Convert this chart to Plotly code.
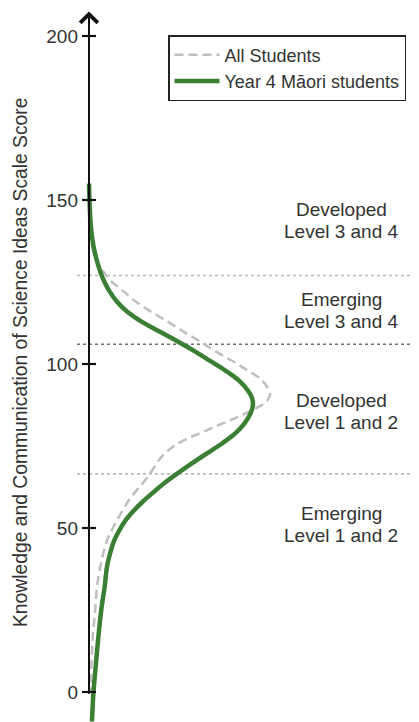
import plotly.graph_objects as go

# ---------------- data ----------------
# Distribution curves: scale score (vertical) vs relative frequency (% of students per score point, horizontal)
maori_score = [155, 150, 145, 140, 136, 132, 128, 125, 122, 119, 116, 113, 110, 107, 104, 101, 98, 95,
               92, 89.5, 87.5, 85, 82, 79, 76, 73, 70, 67, 64, 61, 58, 55, 52, 49, 46, 42, 38, 32,
               26, 20, 14, 7, 0, -9]
maori_density = [0.0, 0.007, 0.016, 0.034, 0.06, 0.10, 0.154, 0.208, 0.28, 0.376, 0.51, 0.70, 0.94,
                 1.18, 1.41, 1.62, 1.83, 2.01, 2.13, 2.19, 2.20, 2.17, 2.09, 1.97, 1.80, 1.60, 1.40,
                 1.21, 1.03, 0.87, 0.72, 0.59, 0.48, 0.40, 0.335, 0.28, 0.24, 0.21, 0.17, 0.14, 0.114,
                 0.087, 0.06, 0.04]

all_score = [145, 140, 136, 132, 128, 125, 122, 119, 116, 113, 110, 107, 104, 101, 98, 95.5, 93, 90.5,
             88.5, 87, 85, 83, 81, 79, 77, 75, 73, 71, 68, 65, 62, 59, 56, 53, 50, 47, 43, 38, 32,
             24, 18, 12, 5, 0]
all_density = [0.0, 0.013, 0.04, 0.094, 0.20, 0.31, 0.47, 0.63, 0.83, 1.05, 1.26, 1.48, 1.69, 1.92,
               2.13, 2.30, 2.39, 2.43, 2.38, 2.28, 2.11, 1.91, 1.70, 1.50, 1.30, 1.14, 1.03, 0.95,
               0.86, 0.77, 0.66, 0.55, 0.47, 0.39, 0.32, 0.255, 0.20, 0.15, 0.107, 0.08, 0.054,
               0.04, 0.027, 0.02]

series_names = ["All Students", "Year 4 Māori students"]

cut_scores = [66.5, 106, 127]
cut_colors = ["#bdbdbd", "#6e6e6e", "#bdbdbd"]

band_labels = [["Developed", "Level 3 and 4"],
               ["Emerging", "Level 3 and 4"],
               ["Developed", "Level 1 and 2"],
               ["Emerging", "Level 1 and 2"]]
band_label_y = [143.6, 116.2, 85.5, 51.2]

tick_vals = [0, 50, 100, 150, 200]
tick_text = ["0", "50", "100", "150", "200"]
y_title = "Knowledge and Communication of Science Ideas Scale Score"

# ---------------- figure ----------------
FONT = "Liberation Sans, Arial, Helvetica, sans-serif"
TXT = "#333333"
W, H = 419, 722
OFF = 8                 # the page body adds an 8px offset; compensate so the picture lines up
MT = 12 - OFF           # plot top in figure pixels
MB = OFF                # plot bottom reaches the window bottom
AXIS_PX = 89 - OFF      # horizontal pixel position of the vertical axis (figure pixels)
PX_PER_UNIT = 74.5      # horizontal pixels per density unit
PX_PER_SCORE = 3.28     # vertical pixels per score point

fig = go.Figure()

fig.add_trace(go.Scatter(
    x=all_density, y=all_score, mode="lines", name=series_names[0],
    line=dict(color="#bfbfbf", width=2.5, dash="9px,5px", shape="spline", smoothing=1.0),
    hoverinfo="skip"))
fig.add_trace(go.Scatter(
    x=maori_density, y=maori_score, mode="lines", name=series_names[1],
    line=dict(color="#3a7f33", width=4.5, shape="spline", smoothing=1.0),
    hoverinfo="skip"))

# tick marks crossing the axis
fig.add_trace(go.Scatter(
    x=[0] * len(tick_vals), y=tick_vals, mode="markers", showlegend=False, hoverinfo="skip",
    marker=dict(symbol="line-ew", size=10, color="#111111", line=dict(color="#111111", width=2.2))))

xmin = -AXIS_PX / PX_PER_UNIT
xmax = (W - AXIS_PX) / PX_PER_UNIT
plot_h = H - MT - MB
ymax = (692 - 12) / PX_PER_SCORE
ymin = ymax - plot_h / PX_PER_SCORE

shapes = []
for c, col in zip(cut_scores, cut_colors):
    shapes.append(dict(type="line", xref="paper", yref="y", x0=(77 - OFF) / W, x1=1, y0=c, y1=c,
                       line=dict(color=col, width=1.6, dash="dot"), layer="below"))

annotations = []
# axis line with arrow head
annotations.append(dict(x=0, y=207.5, xref="x", yref="y", ax=0, ay=-1, axref="x", ayref="y",
                        text="", showarrow=True, arrowhead=4, arrowsize=1.7, arrowwidth=2,
                        arrowcolor="#111111"))
for lab, yc in zip(band_labels, band_label_y):
    for i, line in enumerate(lab):
        annotations.append(dict(x=(341 - OFF) / W, y=yc, xref="paper", yref="y", text=line,
                                showarrow=False, xanchor="center", yanchor="middle",
                                yshift=11 - 22 * i,
                                font=dict(family=FONT, size=19, color=TXT)))
annotations.append(dict(x=(20 - OFF) / W, y=(H - MB - (363 - OFF)) / plot_h, xref="paper", yref="paper",
                        text=y_title, textangle=-90,
                        showarrow=False, xanchor="center", yanchor="middle",
                        font=dict(family=FONT, size=19.3, color=TXT)))

fig.update_layout(
    width=W, height=H,
    margin=dict(l=0, r=0, t=MT, b=MB),
    paper_bgcolor="white", plot_bgcolor="white",
    showlegend=True,
    legend=dict(x=(168 - OFF) / W, y=(H - MB - (35 - OFF)) / plot_h, xanchor="left", yanchor="top",
                bgcolor="white", bordercolor="#222222", borderwidth=1.5, itemwidth=45,
                font=dict(family=FONT, size=18, color=TXT), tracegroupgap=0),
    xaxis=dict(range=[xmin, xmax], visible=False, fixedrange=True, automargin=False),
    yaxis=dict(range=[ymin, ymax], anchor="free", position=AXIS_PX / W, showline=False,
               showgrid=False, zeroline=False, tickvals=tick_vals, ticktext=tick_text,
               ticks="", ticklabelstandoff=11, automargin=False,
               tickfont=dict(family=FONT, size=19, color=TXT)),
    shapes=shapes, annotations=annotations,
)

fig.write_html("out.html")
